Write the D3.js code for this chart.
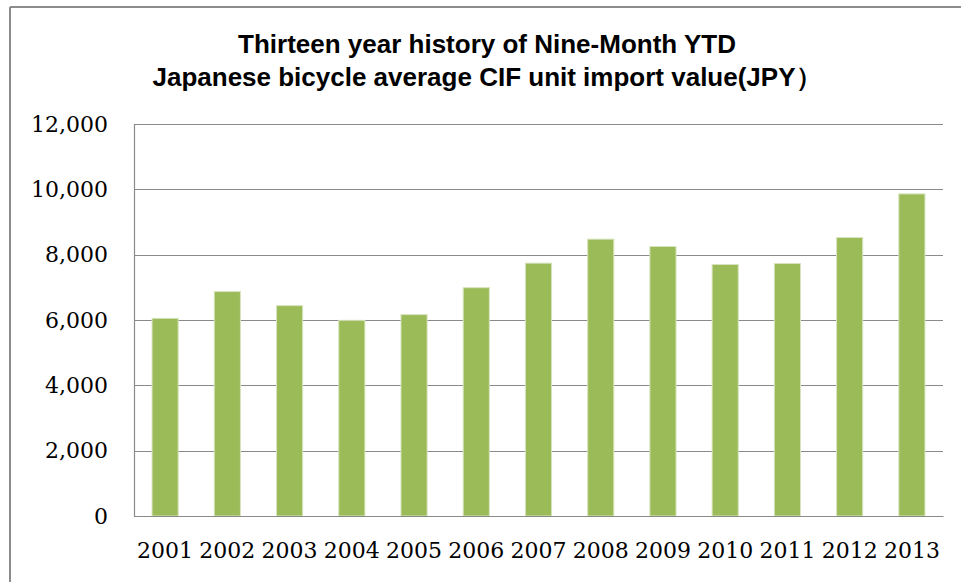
<!DOCTYPE html>
<html>
<head>
<meta charset="utf-8">
<script src="https://cdn.jsdelivr.net/npm/d3@7"></script>
<style>
  body { margin: 0; background: #fff; }
  svg { display: block; }
</style>
</head>
<body>
<svg id="chart" width="961" height="582"></svg>
<script>
// data
var years = ["2001","2002","2003","2004","2005","2006","2007","2008","2009","2010","2011","2012","2013"];
var values = [6050, 6870, 6440, 5990, 6165, 6990, 7740, 8475, 8250, 7700, 7730, 8525, 9860];
var yTicks = [0, 2000, 4000, 6000, 8000, 10000, 12000];
var titleLines = ["Thirteen year history of Nine-Month YTD", "Japanese bicycle average CIF unit import value(JPY\uFF09"];

var svg = d3.select("#chart");

var margin = {top: 124, right: 18, bottom: 66, left: 134},
  width = 961 - margin.left - margin.right,
  height = 582 - margin.top - margin.bottom;

// outer chart frame (only top and left edges show)
svg.append("rect").attr("width", 961).attr("height", 582).attr("fill", "#fff");
svg.append("line").attr("x1", 10).attr("x2", 961).attr("y1", 7).attr("y2", 7)
  .attr("stroke", "#8c8c8c").attr("stroke-width", 2);
svg.append("line").attr("x1", 10).attr("x2", 10).attr("y1", 7).attr("y2", 582)
  .attr("stroke", "#8c8c8c").attr("stroke-width", 2);

var title = svg.append("text")
  .attr("text-anchor", "middle")
  .attr("font-family", "Liberation Sans, Arial, sans-serif")
  .attr("font-weight", "bold")
  .attr("font-size", 26)
  .attr("fill", "#000");
titleLines.forEach(function(t, i) {
  title.append("tspan").attr("x", 487).attr("y", 53 + i * 33).text(t);
});

var g = svg.append("g").attr("transform", "translate(" + margin.left + "," + margin.top + ")");

var xScale = d3.scaleBand()
  .domain(years)
  .range([0, width])
  .paddingInner(0.58)
  .paddingOuter(0.29);

var yScale = d3.scaleLinear()
  .domain([0, 12000])
  .range([height, 0]);

// gridlines
g.append("g")
  .selectAll("line")
  .data(yTicks)
  .enter().append("line")
  .attr("x1", 0)
  .attr("x2", width)
  .attr("y1", function(d) { return Math.round(yScale(d)) + 0.5; })
  .attr("y2", function(d) { return Math.round(yScale(d)) + 0.5; })
  .attr("stroke", "#8a8a8a")
  .attr("stroke-width", 1.2);

// bars
g.selectAll(".bar")
  .data(values)
  .enter().append("rect")
  .attr("class", "bar")
  .attr("x", function(d, i) { return xScale(years[i]); })
  .attr("width", xScale.bandwidth())
  .attr("y", function(d) { return yScale(d); })
  .attr("height", function(d) { return height - yScale(d); })
  .attr("fill", "#9bbb59")
  .attr("stroke", "#d7e4bd")
  .attr("stroke-width", 1);

// axes
var yAxis = d3.axisLeft(yScale).tickValues(yTicks).tickSize(0).tickPadding(26)
  .tickFormat(d3.format(","));
var xAxis = d3.axisBottom(xScale).tickSize(0).tickPadding(26);

var ya = g.append("g").call(yAxis);
ya.select(".domain").attr("stroke", "#8a8a8a").attr("stroke-width", 1.2);
ya.selectAll("text")
  .attr("font-family", "DejaVu Serif, serif")
  .attr("font-size", 22)
  .attr("fill", "#000");

var xa = g.append("g").attr("transform", "translate(0," + height + ")").call(xAxis);
xa.select(".domain").attr("stroke", "#8a8a8a").attr("stroke-width", 1.2);
xa.selectAll("text")
  .attr("font-family", "DejaVu Serif, serif")
  .attr("font-size", 22)
  .attr("fill", "#000");
</script>
</body>
</html>
